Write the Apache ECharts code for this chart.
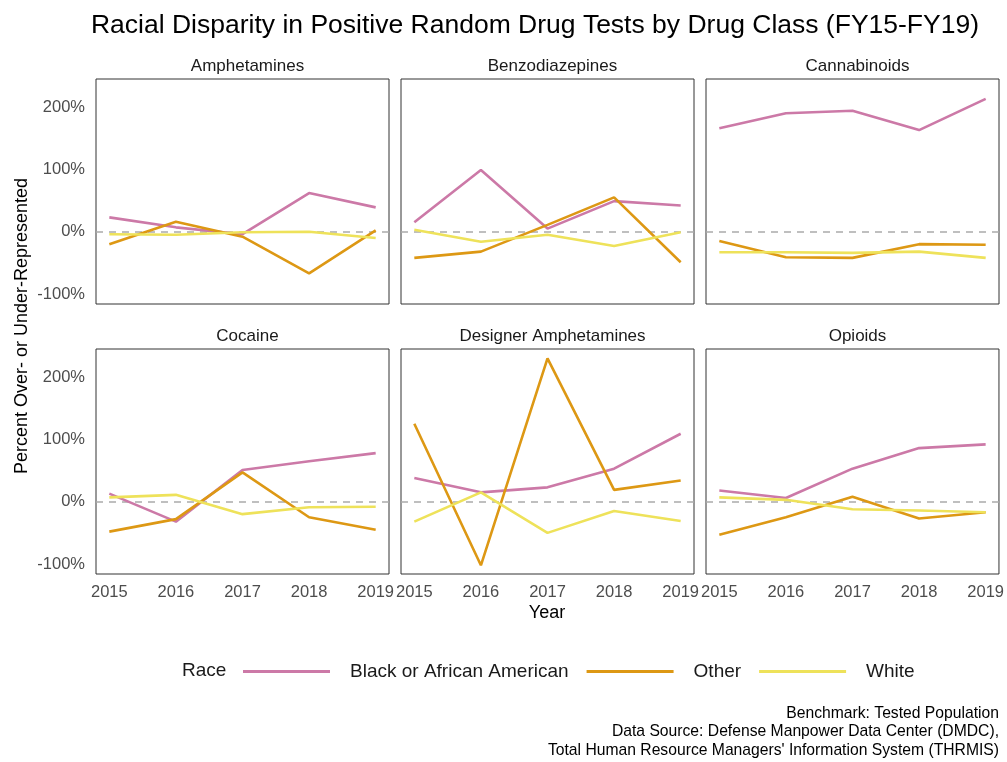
<!DOCTYPE html>
<html>
<head>
<meta charset="utf-8">
<script src="https://cdn.jsdelivr.net/npm/echarts@6/dist/echarts.min.js"></script>
<style>
  html, body { margin: 0; padding: 0; background: #ffffff; }
  #chart { width: 1007px; height: 762px; }
</style>
</head>
<body>
<div id="chart"></div>
<script>
// data (percent over/under-represented)
const years = [2015, 2016, 2017, 2018, 2019];
const drugClasses = ['Amphetamines', 'Benzodiazepines', 'Cannabinoids', 'Cocaine', 'Designer Amphetamines', 'Opioids'];
const raceNames = ['Black or African American', 'Other', 'White'];

const blackValues = [
  [23, 7, -4, 62, 39],
  [15, 99, 5, 49, 42],
  [166, 190, 194, 163, 213],
  [13, -32, 51, 65, 78],
  [38, 15, 23, 53, 109],
  [18, 6, 53, 86, 92]
];
const otherValues = [
  [-20, 16, -8, -67, 2],
  [-42, -32, 11, 55, -49],
  [-15, -41, -42, -20, -21],
  [-48, -28, 47, -25, -45],
  [125, -102, 230, 19, 34],
  [-53, -25, 8, -27, -17]
];
const whiteValues = [
  [-4, -5, -1, 0, -10],
  [3, -16, -5, -23, -1],
  [-33, -33, -34, -32, -42],
  [7, 11, -20, -9, -8],
  [-32, 15, -50, -15, -31],
  [7, 3, -12, -14, -17]
];
const yTicks = [-100, 0, 100, 200];

const COLORS = {
  BLACK: '#CC79A7',
  OTHER: '#DD9814',
  WHITE: '#EEE25A',
  TEXT: '#1a1a1a',
  AXIS_TEXT: '#4d4d4d',
  ZERO_LINE: '#ababab'
};
const FONT = "'Liberation Sans', Arial, sans-serif";

const colLeft = [96, 401, 706];
const rowTop = [79, 349];
const panelW = 293;
const panelH = 225;

const grids = [];
const xAxes = [];
const yAxes = [];
const series = [];
const titles = [];

drugClasses.forEach((name, i) => {
  const col = i % 3;
  const row = Math.floor(i / 3);
  grids.push({
    left: colLeft[col], top: rowTop[row], width: panelW, height: panelH,
    show: true, borderColor: '#333333', borderWidth: 1, backgroundColor: '#ffffff'
  });
  xAxes.push({
    type: 'value', gridIndex: i, min: 2014.8, max: 2019.2,
    axisLine: { show: false }, axisTick: { show: false }, splitLine: { show: false },
    axisLabel: {
      show: row === 1, customValues: years, margin: 10,
      color: COLORS.AXIS_TEXT, fontSize: 16.5, fontFamily: FONT,
      formatter: (v) => String(v)
    }
  });
  yAxes.push({
    type: 'value', gridIndex: i, min: -116, max: 245,
    axisLine: { show: false }, axisTick: { show: false }, splitLine: { show: false },
    axisLabel: {
      show: col === 0, customValues: yTicks, margin: 11,
      color: COLORS.AXIS_TEXT, fontSize: 16.5, fontFamily: FONT,
      formatter: (v) => v + '%'
    }
  });
  titles.push({
    text: name, left: colLeft[col] + panelW / 2, top: rowTop[row] - 26, textAlign: 'center',
    textStyle: { fontSize: 17, fontWeight: 'normal', color: COLORS.TEXT, fontFamily: FONT }
  });

  const lineSets = [blackValues[i], otherValues[i], whiteValues[i]];
  const lineColors = [COLORS.BLACK, COLORS.OTHER, COLORS.WHITE];
  lineSets.forEach((vals, k) => {
    const s = {
      name: raceNames[k],
      type: 'line',
      xAxisIndex: i, yAxisIndex: i,
      data: years.map((y, j) => [y, vals[j]]),
      showSymbol: false, symbol: 'none',
      lineStyle: { color: lineColors[k], width: 2.6 },
      itemStyle: { color: lineColors[k] },
      z: 3 + k
    };
    if (k === 0) {
      // dashed zero reference
      s.markLine = {
        silent: true, symbol: ['none', 'none'], label: { show: false },
        lineStyle: { color: COLORS.ZERO_LINE, type: [7, 6], width: 1.5 },
        data: [{ yAxis: 0 }], z: 1
      };
    }
    series.push(s);
  });
});

titles.push({
  text: 'Racial Disparity in Positive Random Drug Tests by Drug Class (FY15-FY19)',
  left: 530, top: 7, textAlign: 'center',
  textStyle: { fontSize: 26.5, fontWeight: 'normal', color: '#000000', fontFamily: FONT }
});

const option = {
  animation: false,
  backgroundColor: '#ffffff',
  title: titles,
  grid: grids,
  xAxis: xAxes,
  yAxis: yAxes,
  series: series,
  legend: {
    data: raceNames,
    left: 238, top: 657,
    icon: 'rect', itemWidth: 87, itemHeight: 3, itemGap: 18,
    textStyle: { fontSize: 19, color: COLORS.TEXT, fontFamily: FONT, padding: [0, 0, 0, 15] }
  },
  graphic: [
    {
      type: 'text', x: 22, y: 326, rotation: Math.PI / 2,
      style: {
        text: 'Percent Over- or Under-Represented', fill: '#000000',
        font: '18px ' + FONT, align: 'center', verticalAlign: 'middle'
      }
    },
    {
      type: 'text', x: 547, y: 613,
      style: { text: 'Year', fill: '#000000', font: '18px ' + FONT, align: 'center', verticalAlign: 'middle' }
    },
    {
      type: 'text', x: 182, y: 671,
      style: { text: 'Race', fill: COLORS.TEXT, font: '19px ' + FONT, align: 'left', verticalAlign: 'middle' }
    },
    {
      type: 'text', x: 999, y: 704,
      style: {
        text: "Benchmark: Tested Population\nData Source: Defense Manpower Data Center (DMDC),\nTotal Human Resource Managers' Information System (THRMIS)",
        fill: '#000000', font: '15.7px ' + FONT, align: 'right', verticalAlign: 'top', lineHeight: 18.5
      }
    }
  ]
};

const myChart = echarts.init(document.getElementById('chart'));
myChart.setOption(option);
</script>
</body>
</html>
